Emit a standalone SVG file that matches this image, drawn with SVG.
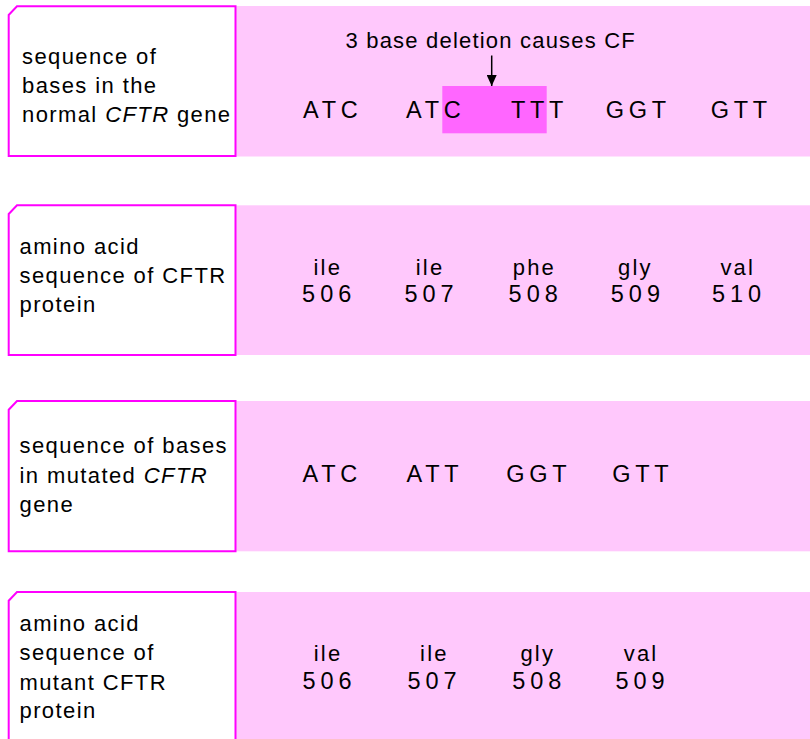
<svg xmlns="http://www.w3.org/2000/svg" width="810" height="739" viewBox="0 0 810 739">
<style>
.band{fill:#FFC8FC;}
.box{fill:#FFFFFF;stroke:#FF00FF;stroke-width:2;}
.lbl{font-family:"Liberation Sans",Arial,sans-serif;font-size:22px;letter-spacing:1.4px;fill:#000;}
.head{font-family:"Liberation Sans",Arial,sans-serif;font-size:22px;letter-spacing:1.2px;fill:#000;}
.seq{font-family:"Liberation Sans",Arial,sans-serif;font-size:23.5px;letter-spacing:4.7px;fill:#000;}
.aa{font-family:"Liberation Sans",Arial,sans-serif;font-size:22px;letter-spacing:2.2px;fill:#000;text-anchor:middle;}
.num{font-family:"Liberation Sans",Arial,sans-serif;font-size:23.5px;letter-spacing:5px;fill:#000;text-anchor:middle;}
.hl{fill:#FF66FF;}
</style>
<defs>
<marker id="ah" markerWidth="11" markerHeight="10" refX="11" refY="5" orient="auto" markerUnits="userSpaceOnUse" viewBox="0 0 11 10">
<path d="M0,0 L11,5 L0,10 Z" fill="#000"/>
</marker>
</defs>

<g id="row1">
<rect class="band" x="235" y="6" width="575" height="150.5"/>
<rect class="hl" x="442.3" y="86" width="104.4" height="47.3"/>
<path class="box" d="M8.7,15 L17,6.3 L235.5,6.3 L235.5,156 L8.7,156 Z"/>
<text class="lbl" x="22" y="63.5">sequence of</text>
<text class="lbl" x="22" y="92.5">bases in the</text>
<text class="lbl" x="22" y="121.5">normal <tspan font-style="italic">CFTR</tspan> gene</text>
<text class="head" x="345.5" y="47.7">3 base deletion causes CF</text>
<text class="seq" x="303" y="118.3">ATC</text>
<text class="seq" x="406" y="118.3">ATC</text>
<text class="seq" x="511" y="118.3">TTT</text>
<text class="seq" x="605.7" y="118.3">GGT</text>
<text class="seq" x="710.7" y="118.3">GTT</text>
</g>

<g id="row2">
<rect class="band" x="235" y="205.3" width="575" height="149.7"/>
<path class="box" d="M8.7,214 L17,205.3 L235.5,205.3 L235.5,355 L8.7,355 Z"/>
<text class="lbl" x="19.5" y="254.3">amino acid</text>
<text class="lbl" x="19.5" y="283.3">sequence of CFTR</text>
<text class="lbl" x="19.5" y="312.3">protein</text>
<text class="aa" x="327.8" y="275">ile</text>
<text class="aa" x="430.1" y="275">ile</text>
<text class="aa" x="534.4" y="275">phe</text>
<text class="aa" x="635.4" y="275">gly</text>
<text class="aa" x="737.8" y="275">val</text>
<text class="num" x="329.2" y="302.3">506</text>
<text class="num" x="431.5" y="302.3">507</text>
<text class="num" x="535.7" y="302.3">508</text>
<text class="num" x="637.9" y="302.3">509</text>
<text class="num" x="739" y="302.3">510</text>
</g>

<g id="row3">
<rect class="band" x="235" y="401" width="575" height="150.3"/>
<path class="box" d="M8.7,409.7 L17,401 L235.5,401 L235.5,551.3 L8.7,551.3 Z"/>
<text class="lbl" x="19.5" y="453.3">sequence of bases</text>
<text class="lbl" x="19.5" y="482.7">in mutated <tspan font-style="italic">CFTR</tspan></text>
<text class="lbl" x="19.5" y="511.7">gene</text>
<text class="seq" x="302.5" y="482.3">ATC</text>
<text class="seq" x="406.5" y="482.3">ATT</text>
<text class="seq" x="506.3" y="482.3">GGT</text>
<text class="seq" x="612.3" y="482.3">GTT</text>
</g>

<g id="row4">
<rect class="band" x="235" y="592" width="575" height="150"/>
<path class="box" d="M8.7,745 L8.7,600.7 L17,592 L235.5,592 L235.5,745"/>
<text class="lbl" x="19.5" y="630.7">amino acid</text>
<text class="lbl" x="19.5" y="660">sequence of</text>
<text class="lbl" x="19.5" y="689.5">mutant CFTR</text>
<text class="lbl" x="19.5" y="718.3">protein</text>
<text class="aa" x="328.1" y="661">ile</text>
<text class="aa" x="434.4" y="661">ile</text>
<text class="aa" x="537.8" y="661">gly</text>
<text class="aa" x="641.1" y="661">val</text>
<text class="num" x="329.6" y="689">506</text>
<text class="num" x="434.6" y="689">507</text>
<text class="num" x="539.3" y="689">508</text>
<text class="num" x="642.6" y="689">509</text>
</g>

<g id="connectors">
<line x1="491.7" y1="55.5" x2="491.7" y2="86" stroke="#000" stroke-width="1.5" marker-end="url(#ah)"/>
</g>
</svg>
